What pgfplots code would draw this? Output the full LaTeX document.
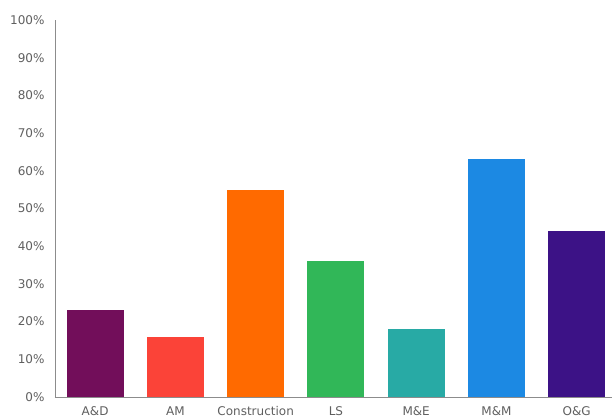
\documentclass[border=0pt]{standalone}
\usepackage{pgfplots}
\pgfplotsset{compat=1.18}
\usepackage{fontspec}
\setmainfont{DejaVu Sans}

\definecolor{cAD}{HTML}{720E5A}
\definecolor{cAM}{HTML}{FB4338}
\definecolor{cCon}{HTML}{FF6A00}
\definecolor{cLS}{HTML}{31B758}
\definecolor{cME}{HTML}{28AAA5}
\definecolor{cMM}{HTML}{1C89E3}
\definecolor{cOG}{HTML}{3C1286}
\definecolor{labelgray}{HTML}{5F5F5F}
\definecolor{axisgray}{HTML}{8C8C8C}

\begin{document}
\begin{tikzpicture}
\begin{axis}[
  at={(0,0)}, anchor=south west,
  scale only axis,
  width=557pt, height=377pt,
  xmin=-0.5, xmax=6.44,
  ymin=0, ymax=100,
  axis x line*=bottom, axis y line*=left,
  axis line style={axisgray, line width=0.8pt, -},
  major tick length=0pt,
  ytick={0,10,...,100},
  yticklabels={0\%,10\%,20\%,30\%,40\%,50\%,60\%,70\%,80\%,90\%,100\%},
  xtick={0,...,6},
  xticklabels={A\&D,AM,Construction,LS,M\&E,M\&M,O\&G},
  ticklabel style={font=\fontsize{12}{14}\selectfont, text=labelgray},
  yticklabel style={xshift=-7pt},
  xticklabel style={yshift=-6pt},
  bar width=57pt,
  ybar, bar shift=0pt,
  clip=false,
]
\addplot[fill=cAD, draw=none] coordinates {(0,23)};
\addplot[fill=cAM, draw=none] coordinates {(1,16)};
\addplot[fill=cCon, draw=none] coordinates {(2,55)};
\addplot[fill=cLS, draw=none] coordinates {(3,36)};
\addplot[fill=cME, draw=none] coordinates {(4,18)};
\addplot[fill=cMM, draw=none] coordinates {(5,63)};
\addplot[fill=cOG, draw=none] coordinates {(6,44)};
\end{axis}
\pgfresetboundingbox
\useasboundingbox (-55pt,-22pt) rectangle (558pt,397pt);
\end{tikzpicture}
\end{document}
